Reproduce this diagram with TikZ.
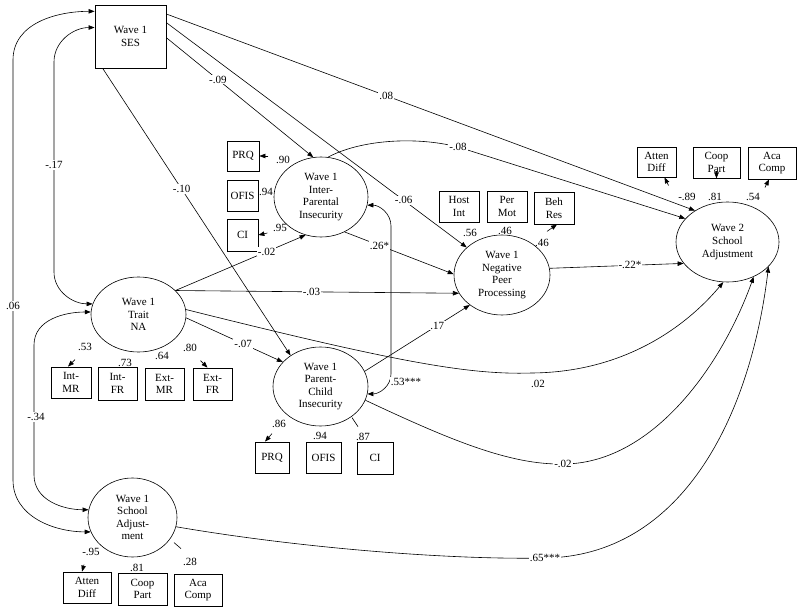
\documentclass[tikz,border=0pt]{standalone}
\usepackage{fontspec}
\setmainfont{Liberation Serif}
\usetikzlibrary{arrows.meta,shapes.geometric,calc}
\begin{document}
\begin{tikzpicture}[x=1pt,y=-1pt, font=\fontsize{11}{12.6}\selectfont,
  ell/.style={ellipse, draw, line width=0.6pt, inner sep=0pt, align=center},
  ind/.style={rectangle, draw, line width=0.8pt, inner sep=0pt, align=center},
  ln/.style={line width=0.6pt},
  arr/.style={ln, -{Triangle[length=6pt,width=4.5pt]}},
  dbl/.style={ln, {Triangle[length=6pt,width=4.5pt]}-{Triangle[length=6pt,width=4.5pt]}},
  lab/.style={fill=white, inner sep=1pt},
  ld/.style={inner sep=0pt}]
\useasboundingbox (0,0) rectangle (800,609);

% latent / observed main nodes
\node[ind, line width=0.9pt, minimum width=71pt, minimum height=63pt] (ses) at (130.5,36.5) {Wave 1\\SES};
\node[ell, minimum width=94pt, minimum height=80pt] (ip) at (321,197) {Wave 1\\Inter-\\Parental\\Insecurity};
\node[ell, minimum width=96pt, minimum height=80pt] (np) at (502,275) {Wave 1\\Negative\\Peer\\Processing};
\node[ell, minimum width=103pt, minimum height=80pt] (w2) at (727.5,242) {Wave 2\\School\\Adjustment};
\node[ell, minimum width=95pt, minimum height=75pt] (na) at (138.5,314.5) {Wave 1\\Trait\\NA};
\node[ell, minimum width=95pt, minimum height=79pt] (pc) at (320.5,386.5) {Wave 1\\Parent-\\Child\\Insecurity};
\node[ell, minimum width=89pt, minimum height=79pt] (sa) at (132.5,517.5) {Wave 1\\School\\Adjust-\\ment};

% indicators
\node[ind, minimum width=32pt, minimum height=30pt] (ipa) at (243,156) {PRQ};
\node[ind, minimum width=31pt, minimum height=31pt] (ipb) at (242.5,195.5) {OFIS};
\node[ind, minimum width=31pt, minimum height=32pt] (ipc) at (242.5,235) {CI};

\node[ind, minimum width=40pt, minimum height=31pt] (npa) at (459,206.5) {Host\\Int};
\node[ind, minimum width=40pt, minimum height=31pt] (npb) at (507,206.5) {Per\\Mot};
\node[ind, minimum width=40pt, minimum height=32pt] (npc) at (554,208) {Beh\\Res};

\node[ind, minimum width=39pt, minimum height=30pt] (w2a) at (656.5,162) {Atten\\Diff};
\node[ind, minimum width=47pt, minimum height=31pt] (w2b) at (716.5,162.5) {Coop\\Part};
\node[ind, minimum width=48pt, minimum height=32pt] (w2c) at (772,163) {Aca\\Comp};

\node[ind, minimum width=40pt, minimum height=31pt] (naa) at (71,382.5) {Int-\\MR};
\node[ind, minimum width=39pt, minimum height=33pt] (nab) at (117.5,383.5) {Int-\\FR};
\node[ind, minimum width=39pt, minimum height=32pt] (nac) at (164.5,384) {Ext-\\MR};
\node[ind, minimum width=39pt, minimum height=32pt] (nad) at (212.5,384) {Ext-\\FR};

\node[ind, minimum width=34pt, minimum height=31pt] (pca) at (272,457.5) {PRQ};
\node[ind, minimum width=35pt, minimum height=31pt] (pcb) at (323.5,457.5) {OFIS};
\node[ind, minimum width=36pt, minimum height=32pt] (pcc) at (375,458) {CI};

\node[ind, minimum width=48pt, minimum height=31pt] (saa) at (87,587.5) {Atten\\Diff};
\node[ind, minimum width=49pt, minimum height=32pt] (sab) at (142.5,589) {Coop\\Part};
\node[ind, minimum width=48pt, minimum height=32pt] (sac) at (198,590) {Aca\\Comp};

% loadings
\node[ld] (l1) at (283,160) {.90};
\node[ld] (l2) at (266,192) {.94};
\node[ld] (l3) at (280,228) {.95};
\node[ld] (l4) at (470,233) {.56};
\node[ld] (l5) at (505,231) {.46};
\node[ld] (l6) at (542,243) {.46};
\node[ld] (l7) at (687,197) {-.89};
\node[ld] (l8) at (715,197) {.81};
\node[ld] (l9) at (753,197) {.54};
\node[ld] (l10) at (85,347) {.53};
\node[ld] (l11) at (125,363) {.73};
\node[ld] (l12) at (162,356) {.64};
\node[ld] (l13) at (190,348) {.80};
\node[ld] (l14) at (279,424) {.86};
\node[ld] (l15) at (320,436) {.94};
\node[ld] (l16) at (363,437) {.87};
\node[ld] (l17) at (91,552) {-.95};
\node[ld] (l18) at (137,568) {.81};
\node[ld] (l19) at (190,562) {.28};

% indicator arrows
\draw[arr] ([xshift=9]ipa.east) -- (ipa.east);
\draw[arr] ([shift={(9,-2)}]ipc.east) -- (ipc.east);
\draw[arr] ([shift={(-7,7)}]npc.south) -- ([xshift=3]npc.south);
\draw[arr] ([shift={(12,8)}]w2a.south) -- ([xshift=8]w2a.south);
\draw[arr] ([yshift=7]w2b.south) -- (w2b.south);
\draw[arr] ([shift={(-7,8)}]w2c.south) -- ([xshift=-3]w2c.south);
\draw[arr] ([shift={(4,-7)}]naa.north) -- ([xshift=-3]naa.north);
\draw[arr] ([shift={(-12,-7)}]nad.north) -- ([xshift=-5]nad.north);
\draw[arr] ([shift={(0,-8)}]pca.north) -- ([xshift=-7]pca.north);
\draw[ln] ([shift={(-23,-24)}]pcc.north) -- ([shift={(-17,-15)}]pcc.north);
\draw[arr] ([shift={(-3,-7)}]saa.north) -- ([xshift=-5]saa.north);
\draw[ln] ([shift={(-24,-31)}]sac.north) -- ([shift={(-17,-25)}]sac.north);

% structural paths
\draw[arr] (ses.358) -- node[lab,pos=0.35] (p1) {-.09} (ip.101);
\draw[arr] (ses.21) -- node[lab,pos=0.79] (p2) {-.06} (np.142);
\draw[arr] (ses.229) -- node[lab,pos=0.42] (p3) {-.10} (pc.134);
\draw[arr] (ses.32) -- node[lab,pos=0.416] (p4) {.08} (w2.136);
\draw[arr] (ip.80) .. controls (360,140) and (415,136) .. (458,147) node[lab] (p5) {-.08} -- (w2.151);
\draw[arr] (ip.304) -- node[lab,pos=0.32] (p6) {.26*} (np.179);
\draw[arr] (na.33) -- node[lab,pos=0.70] (p7) {-.02} (ip.248);
\draw[arr] (na.33) -- node[lab,pos=0.48] (p8) {-.03} (np.203);
\draw[arr] (na.-4) -- node[lab,pos=0.59] (p9) {-.07} (pc.147);
\draw[arr] (na.6) .. controls (400,363) and (470,375) .. (532,373) .. controls (640,372) and (700,310) .. (w2.264);
\node[ld] (p10) at (538,384) {.02};
\draw[arr] (pc.343) .. controls (450,440) and (510,465) .. (563,464) node[lab] (p11) {-.02} .. controls (650,464) and (720,370) .. (w2.307);
\draw[arr] (sa.348) .. controls (300,548) and (450,560) .. (545,558) node[lab] (p12) {.65***} .. controls (680,556) and (750,420) .. (w2.329);
\draw[arr] (np.8) -- node[lab,pos=0.6] (p13) {-.22*} (w2.206);
\draw[arr] (pc.19) -- node[lab,pos=0.69] (p14) {.17} (np.223);

% correlations
\draw[dbl] (ip.350) to[out=0,in=90] (391,226) -- (391,374) to[out=-90,in=0] (pc.351);
\node[lab] (c1) at (406,382) {.53***};
\draw[dbl] (ses.145) to[out=180,in=90] (13,60) -- (13,480) to[out=-90,in=180] (sa.199);
\node[lab] (c2) at (13,306) {.06};
\draw[dbl] (ses.166) to[out=180,in=90] (54,62) -- (54,272) to[out=-90,in=180] (na.167);
\node[lab] (c3) at (54,165) {-.17};
\draw[dbl] (na.177) to[out=180,in=90] (34,345) -- (34,475) to[out=-90,in=180] (sa.170);
\node[lab] (c4) at (36,417) {-.34};
\end{tikzpicture}
\end{document}
